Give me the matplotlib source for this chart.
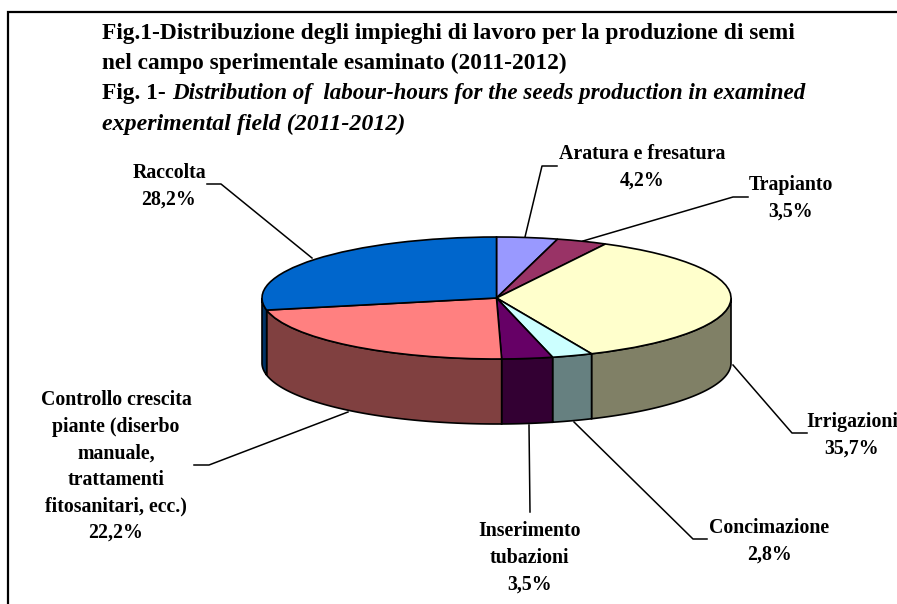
import numpy as np
import matplotlib
matplotlib.use('Agg')
import matplotlib.pyplot as plt

plt.rcParams['font.family'] = ['Liberation Serif', 'DejaVu Serif']

# Data
categories = ['Aratura e fresatura', 'Trapianto', 'Irrigazioni', 'Concimazione',
              'Inserimento\ntubazioni',
              'Controllo crescita\npiante (diserbo\nmanuale,\ntrattamenti\nfitosanitari, ecc.)',
              'Raccolta']
values = [4.2, 3.5, 35.7, 2.8, 3.5, 22.2, 28.2]
top_colors = ['#9999FF', '#993366', '#FFFFCC', '#CCFFFF', '#660066', '#FF8080', '#0066CC']
side_colors = ['#666699', '#662244', '#808066', '#668080', '#330033', '#804040', '#003366']

W, H = 897, 604
CX, CY, RX, RY = 496.5, 298, 234.5, 61
DEPTH = 65 / RY

fig = plt.figure(figsize=(W / 100, H / 100), dpi=100)

# Pie axes: one data unit is one radius, squashed into an ellipse
ax = fig.add_axes([0, 0, 1, 1])
ax.pie(values, colors=top_colors, startangle=90, counterclock=False,
       wedgeprops={'edgecolor': 'black', 'linewidth': 1.2, 'zorder': 3})
ax.set_aspect('auto')
ax.set_xlim((0 - CX) / RX, (W - CX) / RX)
ax.set_ylim((CY - H) / RY, CY / RY)

# Side wall of the front half
edges = np.cumsum([0] + values) / sum(values) * 360
for start, end, col in zip(edges[:-1], edges[1:], side_colors):
    a, b = max(start, 90), min(end, 270)
    if a >= b:
        continue
    t = np.radians(np.linspace(a, b, 80))
    xs = np.r_[np.sin(t), np.sin(t[::-1])]
    ys = np.r_[np.cos(t), np.cos(t[::-1]) - DEPTH]
    ax.fill(xs, ys, facecolor=col, edgecolor='black', linewidth=1.2, zorder=2)

# Overlay in pixel coordinates for frame, title, labels
ov = fig.add_axes([0, 0, 1, 1], facecolor='none')
ov.set_xlim(0, W)
ov.set_ylim(H, 0)
ov.axis('off')

ov.plot([8, 8, W], [H, 12, 12], color='black', linewidth=1.6, solid_joinstyle='miter')

title_size = 16.8
ov.text(102, 34, 'Fig.1-Distribuzione degli impieghi di lavoro per la produzione di semi',
        fontsize=title_size, fontweight='bold', va='center')
ov.text(102, 63, 'nel campo sperimentale esaminato (2011-2012)',
        fontsize=title_size, fontweight='bold', va='center')
ov.text(102, 93, 'Fig. 1-', fontsize=title_size, fontweight='bold', va='center')
ov.text(172, 93, 'Distribution of  labour-hours for the seeds production in examined',
        fontsize=16.6, fontweight='bold', style='italic', va='center')
ov.text(102, 124, 'experimental field (2011-2012)',
        fontsize=17.2, fontweight='bold', style='italic', va='center')

# Leader lines
leaders = [
    ([557, 542, 525], [166, 166, 237]),
    ([748, 733, 583], [197, 197, 241]),
    ([807, 792, 733], [433, 433, 365]),
    ([707, 693, 574], [539, 539, 422]),
    ([530, 529], [512, 425]),
    ([194, 209, 348], [465, 465, 412]),
    ([207, 221, 312], [184, 184, 258]),
]
for xs, ys in leaders:
    ov.plot(xs, ys, color='black', linewidth=1.1)

# Data labels: centre x and y of the first line
label_pos = [(642, 154), (791, 185), (852, 422), (769, 528), (530, 531), (116, 400), (169, 173)]
LINE = 26.6
for name, val, (x, y) in zip(categories, values, label_pos):
    lines = name.split('\n') + [f'{val:.1f}%'.replace('.', ',')]
    for i, line in enumerate(lines):
        ov.text(x, y + i * LINE, line, fontsize=14.3, fontweight='bold',
                ha='center', va='center', clip_on=True)

fig.savefig('out.png', dpi=100, facecolor='white')
